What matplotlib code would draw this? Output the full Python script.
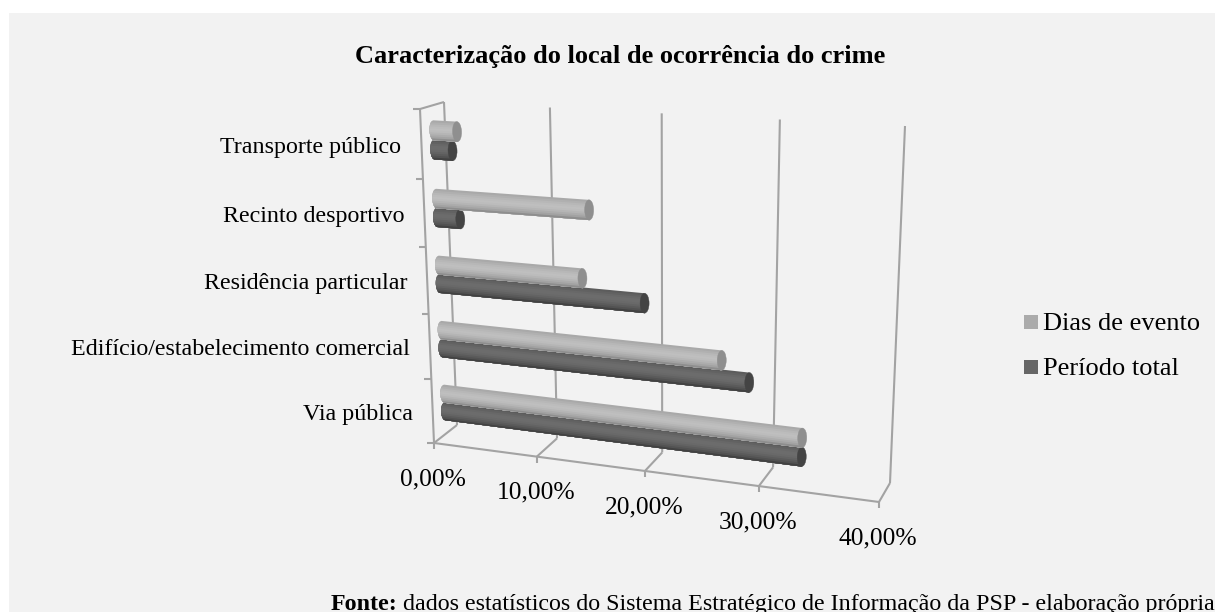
import numpy as np
import matplotlib
matplotlib.use("Agg")
import matplotlib.pyplot as plt
from matplotlib.patches import Polygon, Rectangle, Ellipse

plt.rcParams['font.family'] = ['Liberation Serif', 'DejaVu Serif']

# data
categories = ["Via pública", "Edifício/estabelecimento comercial", "Residência particular",
              "Recinto desportivo", "Transporte público"]
dias_evento = [33.0, 26.0, 13.6, 14.3, 2.25]
periodo_total = [33.0, 28.4, 19.2, 2.25, 1.75]
x_ticks = [0, 10, 20, 30, 40]
x_tick_labels = ["0,00%", "10,00%", "20,00%", "30,00%", "40,00%"]
series_names = ["Dias de evento", "Período total"]

W, H = 1215, 612
GRID = '#a3a3a3'
BG = '#f2f2f2'

front_corners = [(434, 443), (879, 502), (420, 109), (894, 133)]
back_corners = [(457, 425), (890, 483), (444, 102), (905, 126)]
BAR_DEPTH = 0.52


def homography(corners):
    src = [(0, 0), (40, 0), (0, 5), (40, 5)]
    A = []
    b = []
    for (u, v), (x, y) in zip(src, corners):
        A.append([u, v, 1, 0, 0, 0, -u*x, -v*x])
        A.append([0, 0, 0, u, v, 1, -u*y, -v*y])
        b += [x, y]
    h = np.linalg.solve(np.array(A, dtype=float), np.array(b, dtype=float))
    return np.append(h, 1).reshape(3, 3)


H_front = homography(front_corners)
H_back = homography(back_corners)


def apply_h(M, v, r):
    v, r = np.asarray(v, dtype=float), np.asarray(r, dtype=float)
    w = M[2, 0]*v + M[2, 1]*r + M[2, 2]
    return (M[0, 0]*v + M[0, 1]*r + M[0, 2])/w, (M[1, 0]*v + M[1, 1]*r + M[1, 2])/w


def proj(v, r, d=0.0):
    # d=0 front plane, d=1 back wall
    x0, y0 = apply_h(H_front, v, r)
    x1, y1 = apply_h(H_back, v, r)
    return x0 + (x1-x0)*d, y0 + (y1-y0)*d


fig = plt.figure(figsize=(W/100, H/100), dpi=100, facecolor='white')
ax = fig.add_axes([0, 0, 1, 1])
ax.set_xlim(0, W)
ax.set_ylim(H, 0)
ax.axis('off')
ax.add_patch(Rectangle((9, 13), W-9, H-13, fc=BG, ec='none', zorder=0))


def seg(p, q, lw=1.5):
    ax.plot([p[0], q[0]], [p[1], q[1]], color=GRID, lw=lw, solid_capstyle='butt', zorder=1)


# back wall and floor
for v in x_ticks:
    seg(proj(v, 0, 1), proj(v, 5, 1))
    seg(proj(v, 0, 0), proj(v, 0, 1))
    px, py = proj(v, 0, 0)
    seg((px, py), (px, py+6))
seg(proj(0, 0, 0), proj(40, 0, 0))
seg(proj(0, 0, 0), proj(0, 5, 0))
seg(proj(0, 5, 0), proj(0, 5, 1))
for r in range(6):
    px, py = proj(0, r, 0)
    seg((px-7, py), (px, py))

# tube shading from top edge to bottom edge
light_shade = ['#a9a9a9', '#b0b0b0', '#b7b7b7', '#bcbcbc', '#bfbfbf', '#bcbcbc', '#b5b5b5', '#acacac', '#a2a2a2', '#8e8e8e']
dark_shade = ['#5c5c5c', '#626262', '#686868', '#6c6c6c', '#6c6c6c', '#696969', '#636363', '#5b5b5b', '#525252', '#424242']
TUBE = 0.145
CAP = 4.0


def tube(value, r_mid, shades, cap_color, z):
    n = len(shades)
    edges = np.linspace(1, -1, n+1)
    for i in range(n):
        # each band runs down to the bottom edge, the next one paints over it
        ts = np.linspace(edges[i], -1, 24)
        round_off = CAP*np.sqrt(np.clip(1-ts**2, 0, 1))
        xl, yl = proj(0, r_mid+TUBE*ts, BAR_DEPTH)
        xr, yr = proj(value, r_mid+TUBE*ts, BAR_DEPTH)
        pts = list(zip(xl-round_off, yl)) + list(zip(xr[::-1], yr[::-1]))
        ax.add_patch(Polygon(pts, closed=True, fc=shades[i], ec='none', zorder=z))
    xt, yt = proj(value, r_mid+TUBE, BAR_DEPTH)
    xb, yb = proj(value, r_mid-TUBE, BAR_DEPTH)
    ang = np.degrees(np.arctan2(yb-yt, xb-xt)) - 90
    ax.add_patch(Ellipse(((xt+xb)/2, (yt+yb)/2), 2*CAP+1, np.hypot(xb-xt, yb-yt), angle=ang,
                         fc=cap_color, ec=cap_color, lw=0.3, zorder=z+0.5))


for i in range(len(categories)):
    tube(periodo_total[i], i+0.5-0.14, dark_shade, '#444444', 3)
    tube(dias_evento[i], i+0.5+0.14, light_shade, '#8f8f8f', 4)

# category labels
for i, name in enumerate(categories):
    px, py = proj(0, i+0.5, 0)
    ax.text(px-20, py+3, name, ha='right', va='center', fontsize=17.3, color='black', zorder=6)

# value labels
for v, lab in zip(x_ticks, x_tick_labels):
    px, py = proj(v, 0, 0)
    ax.text(px-1, py+36, lab, ha='center', va='center', fontsize=18.4, color='black', zorder=6)

ax.text(620, 56, "Caracterização do local de ocorrência do crime", ha='center', va='center',
        fontsize=19, fontweight='bold', color='black')

# legend
for y, col, name in zip([322, 367], ['#ababab', '#666666'], series_names):
    ax.add_patch(Rectangle((1024, y-7), 14, 14, fc=col, ec='none', zorder=5))
    ax.text(1043, y+2, name, ha='left', va='center', fontsize=19, color='black')

# source line, runs off the right edge like in the original
t1 = ax.text(331, 610, "Fonte:", ha='left', va='baseline', fontsize=17.3, fontweight='bold', color='black')
fig.canvas.draw()
bb = t1.get_window_extent()
ax.text(bb.x1+5, 610, "dados estatísticos do Sistema Estratégico de Informação da PSP - elaboração própria",
        ha='left', va='baseline', fontsize=17.3, color='black')

fig.savefig('out.png', dpi=100, facecolor='white')
